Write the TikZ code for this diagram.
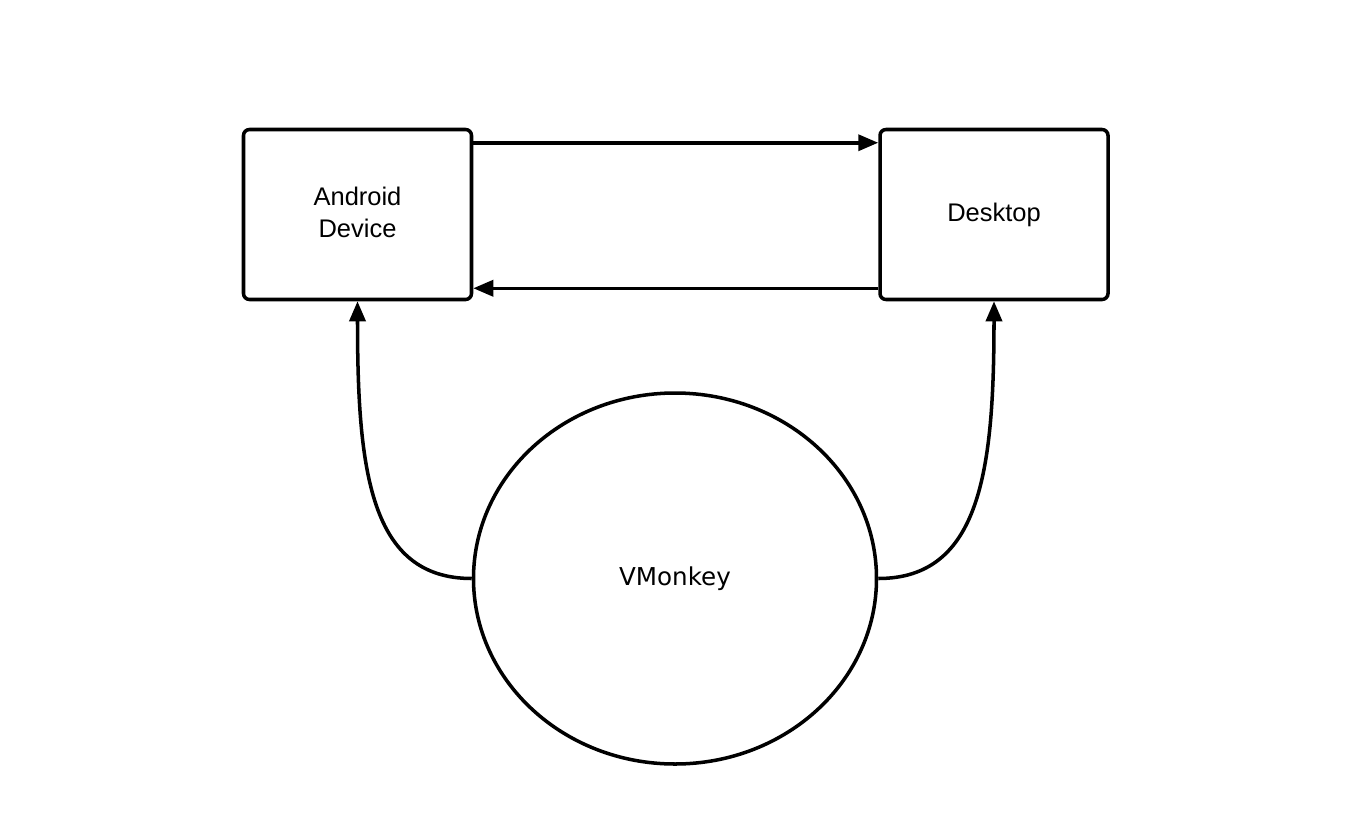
\documentclass[tikz,border=0pt]{standalone}
\usepackage{fontspec}
\setmainfont{Liberation Sans}
\newfontfamily\vmfont{DejaVu Sans}
\usepackage{tikz}
\usetikzlibrary{arrows.meta}
\usetikzlibrary{shapes.geometric}

\begin{document}
\begin{tikzpicture}[line width=2pt, box/.style={rectangle, draw, rounded corners=0.12cm, minimum width=4.56cm, minimum height=3.4cm, inner sep=0pt, align=center, font=\fontsize{14.5}{18.2}\selectfont}]
    \tikzset{blob/.style={ellipse, draw, minimum width=8.06cm, minimum height=7.42cm, inner sep=0pt, font=\vmfont\fontsize{14}{17}\selectfont}}
    \tikzset{>={Triangle[length=0.4cm, width=0.32cm]}}
    \useasboundingbox (0,0) rectangle (27.16,-16.36);
    %boxes and the monkey
    \node[box] (android) at (7.15,-4.29) {Android\\Device\vphantom{p}};
    \node[box] (desktop) at (19.88,-4.29) {Desktop};
    \node[blob] (vmonkey) at (13.5,-11.57) {VMonkey};
    
    \draw[->] ([yshift=-0.3cm]android.north east) -- ([yshift=-0.3cm]desktop.north west);
    \draw[->] ([yshift=0.26cm]desktop.south west) -- ([yshift=0.26cm]android.south east);
    
    \draw[->] (vmonkey.west) .. controls +(-2.04,0) and +(0,-3.38) .. (android.south);
    \draw[->] (vmonkey.east) .. controls +(2.04,0) and +(0,-3.38) .. (desktop.south);
\end{tikzpicture}
\end{document}
